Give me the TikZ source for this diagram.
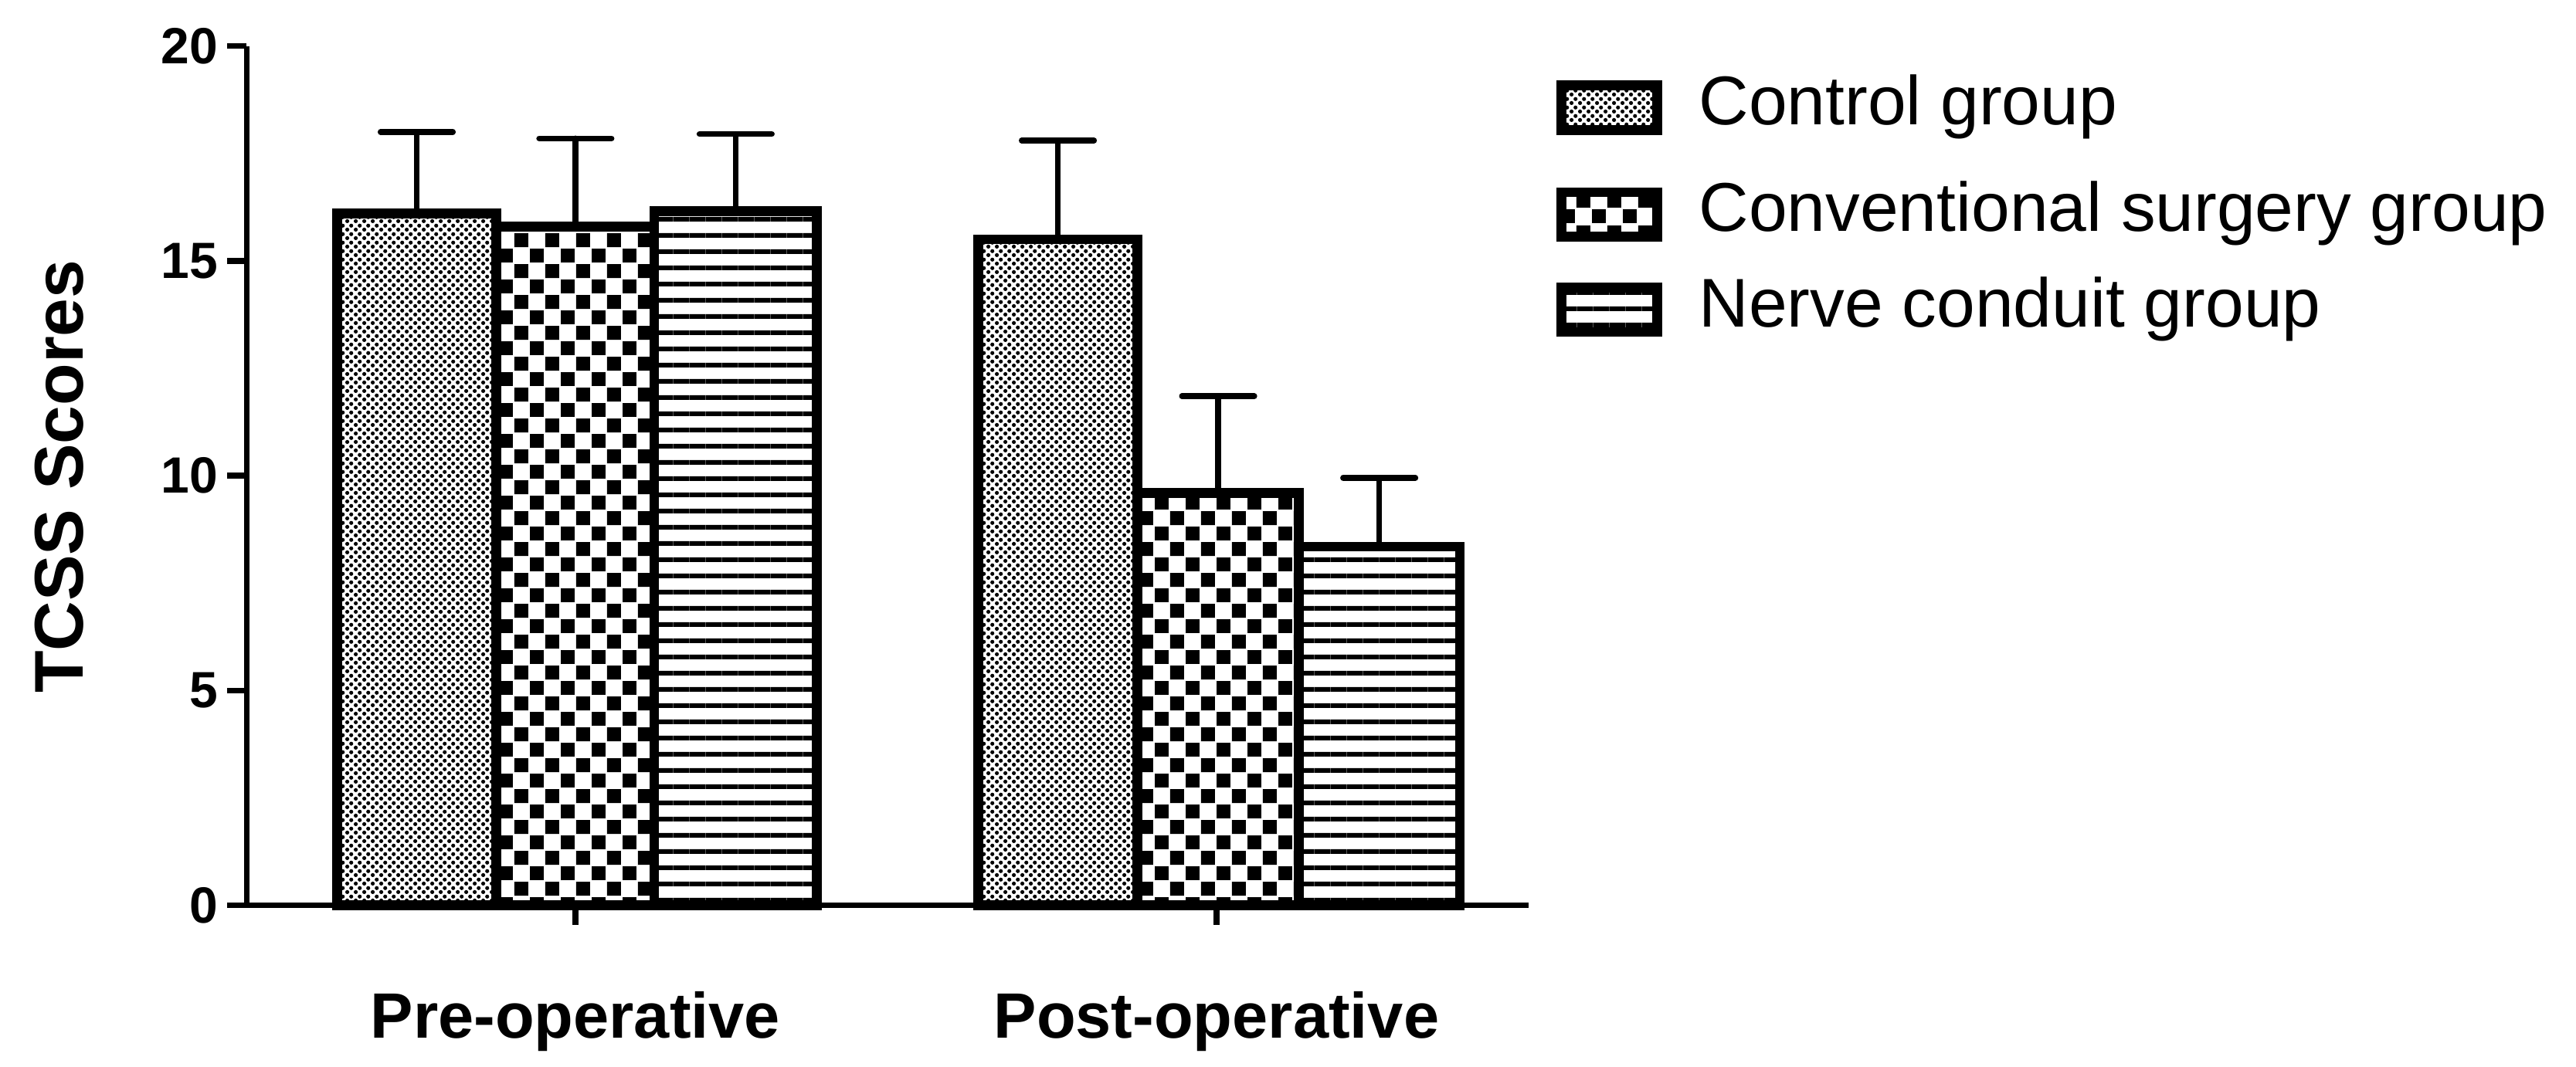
\documentclass[tikz,border=0pt]{standalone}
\usepackage{fontspec}
\setmainfont{Liberation Sans}
\usetikzlibrary{patterns.meta}
\tikzdeclarepattern{name=fdots,type=uncolored,bottom left={(0,0)},top right={(5pt,5pt)},tile size={(5pt,5pt)},
 code={\fill (1.25pt,1.25pt) circle (1.25pt); \fill (3.75pt,3.75pt) circle (1.25pt);}}
\tikzdeclarepattern{name=fcheck,type=uncolored,bottom left={(0,0)},top right={(19pt,19pt)},tile size={(19pt,19pt)},
 code={\fill (0,0) rectangle (8.5pt,8.5pt); \fill (9.5pt,9.5pt) rectangle (18pt,18pt);}}
\tikzdeclarepattern{name=fstripe,type=uncolored,bottom left={(0,0)},top right={(10pt,10pt)},tile size={(10pt,10pt)},
 code={\fill (0,0) rectangle (10pt,3pt);}}
\begin{document}
\begin{tikzpicture}[x=1pt,y=1pt,
  barA/.style={line width=6pt,draw=black,pattern=fdots},
  barB/.style={line width=6pt,draw=black,pattern=fcheck},
  barC/.style={line width=6pt,draw=black,pattern=fstripe},
  ax/.style={line width=3.5pt},
  err/.style={line width=3.5pt,line cap=round},
  tick/.style={font=\bfseries\fontsize{31}{34}\selectfont},
  lab/.style={font=\bfseries\fontsize{39}{44}\selectfont},
  leg/.style={font=\fontsize{42}{46}\selectfont,anchor=west}]
\useasboundingbox (0,0) rectangle (1567,649);
\begin{scope}[shift={(150,98)},y=26.15pt]
 \coordinate (o) at (0,0);
 \draw[ax] (0,20) -- (o) -- (780,0);
 \foreach \v in {0,5,10,15,20}{
   \draw[ax] (0,\v) -- (-12,\v);
   \node[tick,anchor=east] (t\v) at (-14,\v) {\v};}
 \foreach \xx/\nm in {200/pre,590/post}{\draw[ax] (\xx,0) -- (\xx,-0.45); \coordinate (\nm) at (\xx,-2.7);}
 \node[lab] (lpre) at (pre) {Pre-operative};
 \node[lab] (lpost) at (post) {Post-operative};
 \foreach \a/\b/\m/\e/\s in {55/152/16.1/18.0/barA,152/248/15.8/17.85/barB,248/347/16.15/17.95/barC,
    445/542/15.5/17.8/barA,542/640/9.6/11.85/barB,640/738/8.35/9.95/barC}{
   \pgfmathsetmacro\c{(\a+\b)/2}
   \draw[err] (\c,\m) -- (\c,\e) (\c-22,\e) -- (\c+22,\e);
   \draw[\s] (\a,0) rectangle (\b,\m);
 }
\end{scope}
\node[lab,rotate=90,font=\bfseries\fontsize{42}{46}\selectfont] (ylab) at (36,359) {TCSS Scores};
\draw[barA] (950,570) rectangle (1008,597);
\draw[barB] (950,505) rectangle (1008,532);
\draw[barC] (950,447) rectangle (1008,474);
\node[leg] (l1) at (1030,584) {Control group};
\node[leg] (l2) at (1030,519) {Conventional surgery group};
\node[leg] (l3) at (1030,461) {Nerve conduit group};
\end{tikzpicture}
\end{document}
